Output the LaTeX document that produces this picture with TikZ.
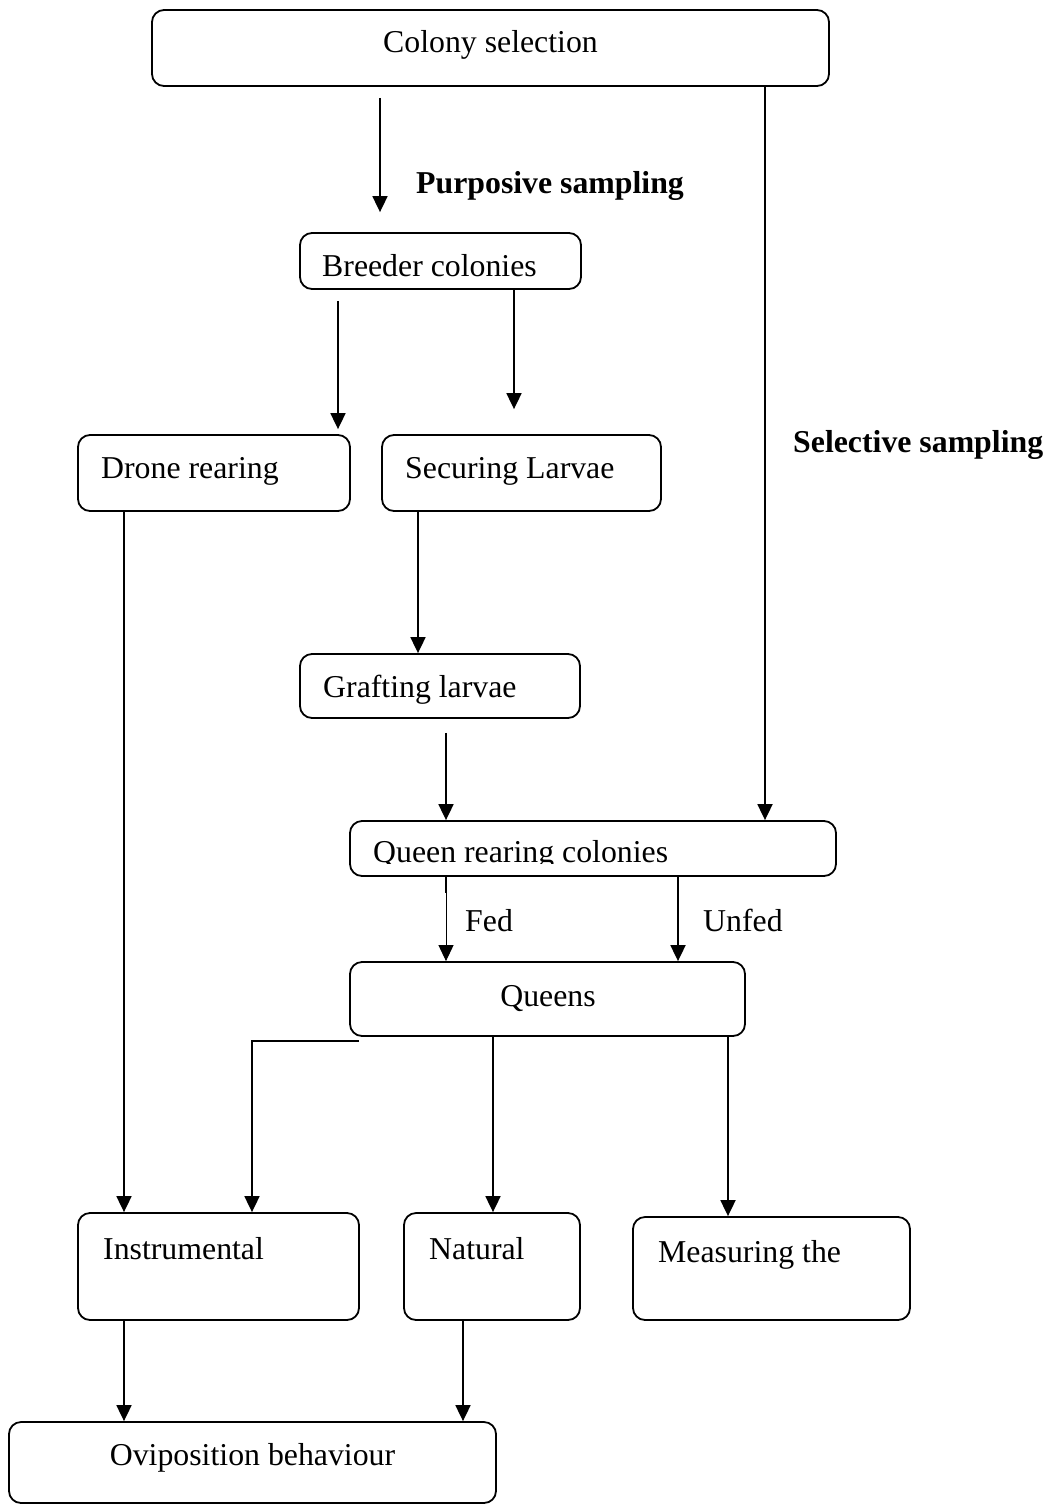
\documentclass[tikz,border=0pt]{standalone}
\usepackage{fontspec}
\setmainfont{Liberation Serif}
\usetikzlibrary{arrows.meta,calc}
\begin{document}
\begin{tikzpicture}[x=1pt,y=-1pt,
  box/.style={draw, line width=1.8pt, rounded corners=12pt, inner sep=0pt},
  lbl/.style={inner sep=0pt, font=\fontsize{31.8}{38}\selectfont},
  blbl/.style={inner sep=0pt, font=\fontsize{31.8}{38}\selectfont\bfseries},
  arr/.style={line width=1.8pt, -{Triangle[width=15pt,length=16pt]}},
  thinarr/.style={line width=1pt, -{Triangle[width=15pt,length=16pt]}},
  ln/.style={line width=1.8pt}]
\useasboundingbox (0,0) rectangle (1051,1505);
% boxes
\node[box, minimum width=677pt, minimum height=76pt] (col) at (490.5,48) {};
\node[box, minimum width=281pt, minimum height=56pt] (bre) at (440.5,261) {};
\node[box, minimum width=272pt, minimum height=76pt] (dro) at (214,473) {};
\node[box, minimum width=279pt, minimum height=76pt] (sec) at (521.5,473) {};
\node[box, minimum width=280pt, minimum height=64pt] (gra) at (440,686) {};
\node[box, minimum width=486pt, minimum height=55pt] (que) at (593,848.5) {};
\node[box, minimum width=395pt, minimum height=74pt] (qns) at (547.5,999) {};
\node[box, minimum width=281pt, minimum height=107pt] (ins) at (218.5,1266.5) {};
\node[box, minimum width=176pt, minimum height=107pt] (nat) at (492,1266.5) {};
\node[box, minimum width=277pt, minimum height=103pt] (mea) at (771.5,1268.5) {};
\node[box, minimum width=487pt, minimum height=81pt] (ovi) at (252.5,1462.5) {};
% texts
\node[lbl, anchor=base] (tcol) at (490.5,52) {Colony selection};
\node[blbl, anchor=base west] (tpur) at (416,193) {Purposive sampling};
\node[lbl, anchor=base west] (tbre) at (322,276) {Breeder colonies};
\node[lbl, anchor=base west] (tdro) at (101,478) {Drone rearing};
\node[lbl, anchor=base west] (tsec) at (405,478) {Securing Larvae};
\node[blbl, anchor=base west] (tsel) at (793,452) {Selective sampling};
\node[lbl, anchor=base west] (tgra) at (323,697) {Grafting larvae};
\begin{scope}
\clip (350,815) rectangle (840,863);
\node[lbl, anchor=base west] (tque) at (373,862) {Queen rearing colonies};
\end{scope}
\node[lbl, anchor=base west] (tfed) at (465,931) {Fed};
\node[lbl, anchor=base west] (tunf) at (703,931) {Unfed};
\node[lbl, anchor=base] (tqns) at (548,1006) {Queens};
\node[lbl, anchor=base west] (tins) at (103,1259) {Instrumental};
\node[lbl, anchor=base west] (tnat) at (429,1259) {Natural};
\node[lbl, anchor=base west] (tmea) at (658,1262) {Measuring the};
\node[lbl, anchor=base] (tovi) at (252.5,1465) {Oviposition behaviour};
% column coordinates
\coordinate (cA) at (380,0);
\coordinate (cB) at (338,0);
\coordinate (cC) at (514,0);
\coordinate (cD) at (418,0);
\coordinate (cE) at (446,0);
\coordinate (cS) at (765,0);
\coordinate (cU) at (678,0);
\coordinate (cI) at (252,0);
\coordinate (cN) at (493,0);
\coordinate (cM) at (728,0);
\coordinate (cL) at (124,0);
\coordinate (cO) at (463,0);
% connectors
\draw[arr] ([yshift=-11pt]col.south -| cA) -- ([yshift=20pt]bre.north -| cA);
\draw[arr] ([yshift=-11pt]bre.south -| cB) -- ([yshift=5pt]dro.north -| cB);
\draw[arr] (bre.south -| cC) -- ([yshift=25pt]sec.north -| cC);
\draw[arr] (sec.south -| cD) -- (gra.north -| cD);
\draw[arr] ([yshift=-14pt]gra.south -| cE) -- (que.north -| cE);
\draw[arr] (col.south -| cS) -- (que.north -| cS);
\draw[ln] (que.south -| cE) -- ([yshift=-16pt]que.south -| cE);
\draw[thinarr] (que.south -| cE) -- (qns.north -| cE);
\draw[arr] (que.south -| cU) -- (qns.north -| cU);
\draw[arr] ([shift={(10pt,-4pt)}]qns.south west) -| (ins.north -| cI);
\draw[arr] (qns.south -| cN) -- (nat.north -| cN);
\draw[arr] (qns.south -| cM) -- (mea.north -| cM);
\draw[arr] (dro.south -| cL) -- (ins.north -| cL);
\draw[arr] (ins.south -| cL) -- (ovi.north -| cL);
\draw[arr] (nat.south -| cO) -- (ovi.north -| cO);
\end{tikzpicture}
\end{document}
